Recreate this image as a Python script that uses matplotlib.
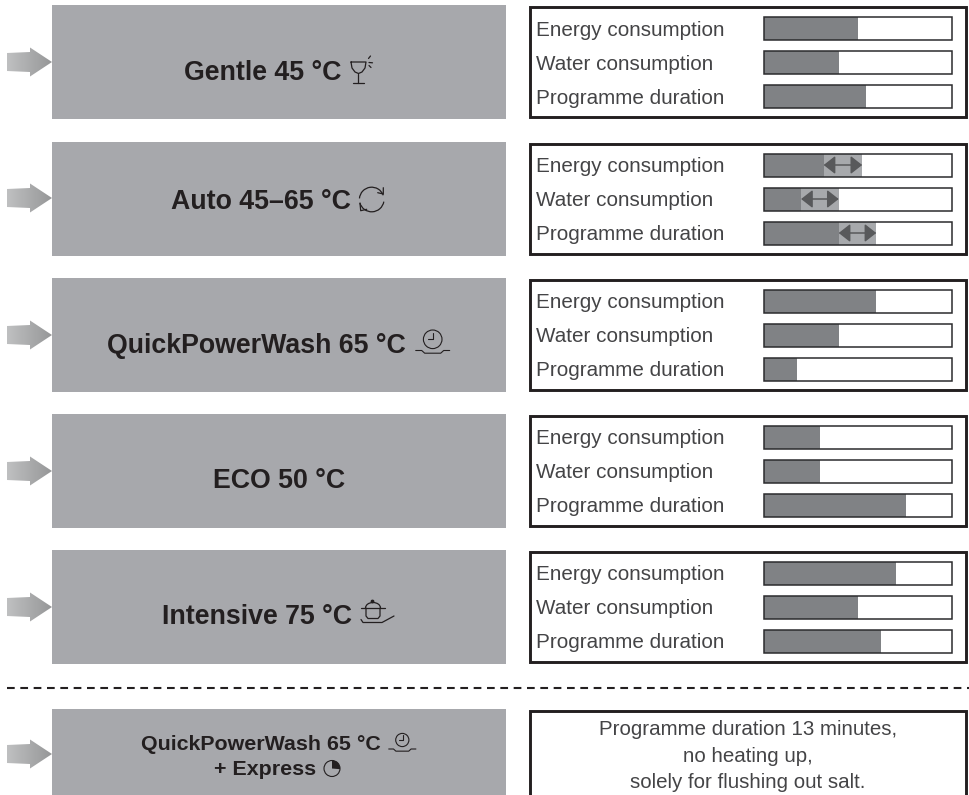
import numpy as np
import matplotlib
matplotlib.use("Agg")
import matplotlib.pyplot as plt
from matplotlib.patches import Rectangle, Polygon, Circle, Arc, Wedge

plt.rcParams['font.family'] = ['Liberation Sans', 'DejaVu Sans']

# data (fraction of the bar filled)
metrics = ["Energy consumption", "Water consumption", "Programme duration"]
energy = [0.50, 0.32, 0.60, 0.30, 0.705]
water = [0.40, 0.20, 0.40, 0.30, 0.50]
duration = [0.545, 0.40, 0.18, 0.76, 0.625]
# only the Auto programme has a range
auto_index = 1
auto_upper = [0.525, 0.40, 0.60]

titles = ["Gentle 45 °C", "Auto 45–65 °C", "QuickPowerWash 65 °C", "ECO 50 °C", "Intensive 75 °C"]
express_lines = ["QuickPowerWash 65 °C", "+ Express"]
note_lines = ["Programme duration 13 minutes,", "no heating up,", "solely for flushing out salt."]

W, H = 969, 795
PANEL = "#a7a8ac"
BAR = "#808285"
BAND = "#a7a9ac"
DARK = "#231f20"
TEXT = "#444446"

fig = plt.figure(figsize=(W / 100, H / 100), dpi=100)
ax = fig.add_axes([0, 0, 1, 1])
ax.set_xlim(0, W)
ax.set_ylim(H, 0)
ax.axis("off")

tops = [5, 142, 278, 414, 550]
title_x = [262.5, 260.5, 256.5, 279, 257]
title_base = [80, 209, 353, 488, 624]
arrow_y = [62, 198, 335, 471, 607, 754]


def line(points, lw=1.0, color=DARK):
    p = np.array(points)
    ax.plot(p[:, 0], p[:, 1], color=color, lw=lw, solid_capstyle="round", solid_joinstyle="round", zorder=5)


def arrow(y):
    # grey arrow with a horizontal gradient
    pts = [(7, y - 9), (30, y - 10), (30, y - 14.5), (52, y), (30, y + 14.5), (30, y + 10), (7, y + 9)]
    poly = Polygon(pts, closed=True, facecolor="none", edgecolor="none")
    ax.add_patch(poly)
    grad = np.linspace(0, 1, 64).reshape(1, -1)
    cmap = matplotlib.colors.LinearSegmentedColormap.from_list("a", ["#bfc0c1", "#969798"])
    im = ax.imshow(grad, extent=(7, 52, y + 15, y - 15), cmap=cmap, aspect="auto", zorder=2)
    im.set_clip_path(poly)


def bar_axes(top):
    left, right = 763.5, 951.5
    # 3 rows, 34 px each, bars 23 px high
    y0, y1 = top + 6, top + 108
    bx = fig.add_axes([left / W, 1 - y1 / H, (right - left) / W, (y1 - y0) / H])
    bx.set_xlim(0, 1)
    bx.set_ylim(2.5, -0.5)
    bx.axis("off")
    return bx


def clock(cx, cy, r, dish_scale, dish_y):
    ax.add_patch(Circle((cx, cy), r, fill=False, edgecolor=DARK, lw=0.8, zorder=5))
    line([(cx + 0.3, cy - r * 0.72), (cx + 0.3, cy), (cx - r * 0.55, cy)], 0.8)
    s = dish_scale
    line([(cx - 17 * s, dish_y), (cx - 11 * s, dish_y), (cx - 8 * s, dish_y + 2.7 * s), (cx + 8 * s, dish_y + 2.7 * s),
          (cx + 11 * s, dish_y), (cx + 17 * s, dish_y)], 0.8)


def glass_icon():
    line([(351, 62), (366, 62), (365, 68), (362, 72), (358.5, 73.5), (355, 72), (352, 68), (351, 62)], 0.9)
    line([(358.5, 73.5), (358.5, 82.5)], 0.9)
    line([(353, 82.5), (364, 82.5)], 0.9)
    line([(368.5, 58.5), (370.5, 56)], 0.9)
    line([(369, 62.5), (372.5, 62.8)], 0.9)
    line([(369, 65.5), (371, 67.5)], 0.9)


def sync_icon():
    cx, cy, r = 371.7, 199.5, 12.3
    ax.add_patch(Arc((cx, cy), 2 * r, 2 * r, theta1=185, theta2=340, lw=0.9, color=DARK, zorder=5))
    ax.add_patch(Arc((cx, cy), 2 * r, 2 * r, theta1=10, theta2=165, lw=0.9, color=DARK, zorder=5))
    line([(377.7, 192.7), (383.3, 194), (383.3, 187.7)], 0.9)
    line([(360, 203.3), (360.7, 210.7), (366.7, 209.3)], 0.9)


def pot_icon():
    line([(366, 608), (366, 616), (368, 618.5), (378, 618.5), (380, 616), (380, 608)], 0.9)
    line([(361, 608), (385, 608)], 0.9)
    ax.add_patch(Arc((373, 608), 15, 11, theta1=180, theta2=360, lw=0.9, color=DARK, zorder=5))
    ax.add_patch(Circle((372.5, 601.5), 1.2, color=DARK, zorder=5))
    line([(361, 619.5), (363, 622.5), (382, 622.5), (394, 616)], 0.9)


def express_icon():
    cx, cy, r = 332, 768.5, 8
    ax.add_patch(Circle((cx, cy), r, fill=False, edgecolor=DARK, lw=0.8, zorder=5))
    ax.add_patch(Wedge((cx, cy), r, -90, 5, color=DARK, lw=0, zorder=5))


for i, top in enumerate(tops):
    ax.add_patch(Rectangle((52, top), 454, 114, facecolor=PANEL, edgecolor="none"))
    ax.text(title_x[i], title_base[i], titles[i], fontsize=19.3, fontweight="bold", color=DARK, ha="center", va="baseline", zorder=5)
    ax.add_patch(Rectangle((530, top + 1.5), 436, 110.5, facecolor="white", edgecolor="#231f20", lw=2.1, zorder=1))

    values = [energy[i], water[i], duration[i]]
    for j, name in enumerate(metrics):
        ax.text(536, top + 30.5 + 34 * j, name, fontsize=14.85, color=TEXT, ha="left", va="baseline", zorder=5)

    bx = bar_axes(top)
    ys = np.arange(3)
    bx.barh(ys, values, height=23 / 34, color=BAR, zorder=1)
    if i == auto_index:
        bx.barh(ys, np.array(auto_upper) - np.array(values), left=values, height=23 / 34, color=BAND, zorder=1)
        for y, lo, hi in zip(ys, values, auto_upper):
            bx.annotate("", xy=(hi, y), xytext=(lo, y),
                        arrowprops=dict(arrowstyle="<|-|>,head_length=7.0,head_width=5.5", mutation_scale=1,
                                        shrinkA=0, shrinkB=0, color="#58595b", lw=1.1))
    bx.barh(ys, np.ones(3), height=23 / 34, fill=False, edgecolor="#2b2b2d", lw=1.1, zorder=3)
    for b in bx.patches:
        b.set_clip_on(False)

for y in arrow_y:
    arrow(y)
ax.set_xlim(0, W)
ax.set_ylim(H, 0)

# last row, below the dashed line
ax.plot([7, W], [687.5, 687.5], color=DARK, lw=1.5, dashes=(3.7, 2.7))
ax.add_patch(Rectangle((52, 709), 454, 90, facecolor=PANEL, edgecolor="none"))
ax.text(261, 750, express_lines[0], fontsize=15.4, fontweight="bold", color=DARK, ha="center", va="baseline", zorder=5)
ax.text(265.5, 775, express_lines[1], fontsize=15.4, fontweight="bold", color=DARK, ha="center", va="baseline", zorder=5)
ax.add_patch(Rectangle((530, 710.5), 436, 100, facecolor="white", edgecolor="#231f20", lw=2.1, zorder=1))
for txt, base in zip(note_lines, [735, 762, 788]):
    ax.text(748, base, txt, fontsize=14.8, color=TEXT, ha="center", va="baseline", zorder=5)

glass_icon()
sync_icon()
clock(432.7, 339.3, 9.3, 1.0, 350.5)
pot_icon()
clock(402.3, 740, 6.6, 0.8, 749)
express_icon()

fig.savefig("out.png", dpi=100)
